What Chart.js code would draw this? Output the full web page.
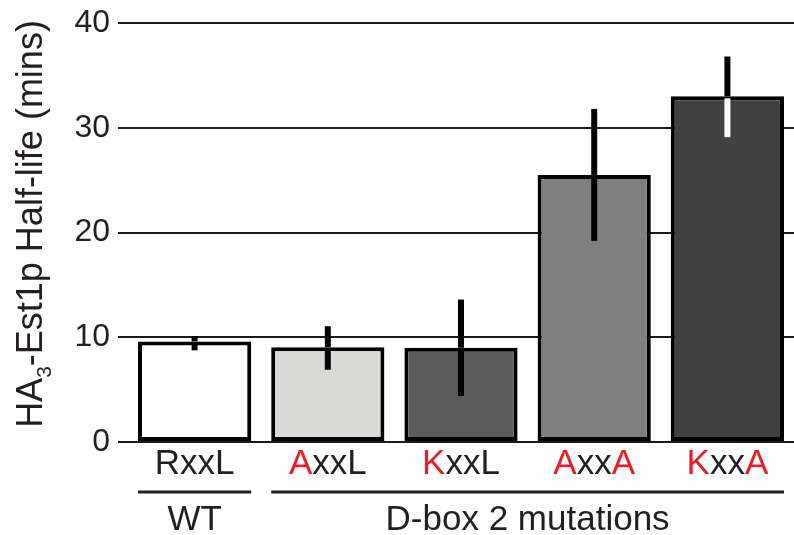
<!DOCTYPE html>
<html>
<head>
<meta charset="utf-8">
<script src="https://cdn.jsdelivr.net/npm/chart.js@4.4.1/dist/chart.umd.min.js"></script>
<style>
  html, body { margin: 0; padding: 0; background: #fff; }
  canvas { display: block; }
</style>
</head>
<body>
<canvas id="chart" width="794" height="535"></canvas>
<script>
// D-box motif variants; letters that differ from the wild-type motif are drawn in red
const wildType = "RxxL"
const categories = ["RxxL", "AxxL", "KxxL", "AxxA", "KxxA"]
const halfLife = [9.6, 9.05, 9.0, 25.5, 33.0]
const errLow = [8.75, 6.9, 4.4, 19.2, 29.1]
const errHigh = [10.1, 11.05, 13.6, 31.8, 36.8]
const yTicks = [0, 10, 20, 30, 40]

// bracket groups under the axis
const groupLabels = ["WT", "D-box 2 mutations"]
const groupFrom = [0, 1]
const groupTo = [0, 4]

const barColors = ["#ffffff", "#d9d9d7", "#5a5a5a", "#7f7f7f", "#414141"]
// colour of the error bar where it runs inside the bar
const errInsideColors = ["#000", "#000", "#000", "#000", "#fff"]

const FONT = "'Liberation Sans', Arial, Helvetica, sans-serif"
const TEXT = "#231f20"
const RED = "#ed1c24"

const errorBars = {
  id: "errorBars",
  afterDatasetsDraw(chart) {
    const ctx = chart.ctx
    const y = chart.scales.y
    const meta = chart.getDatasetMeta(0)
    ctx.save()
    ctx.lineCap = "butt"
    ctx.lineWidth = 6
    meta.data.forEach((bar, i) => {
      const top = y.getPixelForValue(errHigh[i])
      const bot = y.getPixelForValue(errLow[i])
      const val = y.getPixelForValue(halfLife[i])
      // part above the bar
      ctx.strokeStyle = "#000"
      ctx.beginPath()
      ctx.moveTo(bar.x, top)
      ctx.lineTo(bar.x, Math.min(val, bot))
      ctx.stroke()
      // part inside the bar
      if (bot > val) {
        ctx.strokeStyle = errInsideColors[i]
        ctx.beginPath()
        ctx.moveTo(bar.x, val + 2)
        ctx.lineTo(bar.x, bot)
        ctx.stroke()
      }
    })
    ctx.restore()
  }
}

const axisLabels = {
  id: "axisLabels",
  afterDraw(chart) {
    const ctx = chart.ctx
    const meta = chart.getDatasetMeta(0)
    ctx.save()

    // category labels, mutated residues in red
    ctx.font = "35px " + FONT
    ctx.textBaseline = "alphabetic"
    ctx.textAlign = "left"
    meta.data.forEach((bar, i) => {
      const label = categories[i]
      let x = bar.x - ctx.measureText(label).width / 2
      for (let k = 0; k < label.length; k++) {
        const ch = label[k]
        ctx.fillStyle = ch !== wildType[k] ? RED : TEXT
        ctx.fillText(ch, x, 474)
        x += ctx.measureText(ch).width
      }
    })

    // group brackets
    ctx.strokeStyle = "#231f20"
    ctx.lineWidth = 3
    ctx.fillStyle = TEXT
    ctx.textAlign = "center"
    groupLabels.forEach((g, i) => {
      const a = meta.data[groupFrom[i]]
      const b = meta.data[groupTo[i]]
      const x0 = a.x - a.width / 2
      const x1 = b.x + b.width / 2
      ctx.beginPath()
      ctx.moveTo(x0, 492)
      ctx.lineTo(x1, 492)
      ctx.stroke()
      ctx.fillText(g, (x0 + x1) / 2, 530)
    })

    // rotated y title with subscript
    const parts = [
      { t: "HA", size: 36, dy: 0 },
      { t: "3", size: 21, dy: 9 },
      { t: "-Est1p Half-life (mins)", size: 36, dy: 0 }
    ]
    let total = 0
    parts.forEach(p => {
      ctx.font = p.size + "px " + FONT
      p.w = ctx.measureText(p.t).width
      total += p.w
    })
    ctx.translate(42, 224)
    ctx.rotate(-Math.PI / 2)
    ctx.textAlign = "left"
    let x = -total / 2
    parts.forEach(p => {
      ctx.font = p.size + "px " + FONT
      ctx.fillText(p.t, x, p.dy)
      x += p.w
    })
    ctx.restore()
  }
}

new Chart(document.getElementById("chart"), {
  type: "bar",
  data: {
    labels: categories,
    datasets: [{
      data: halfLife,
      backgroundColor: barColors,
      borderColor: "#000",
      borderWidth: 4,
      borderSkipped: false,
      barPercentage: 0.85,
      categoryPercentage: 1
    }]
  },
  options: {
    responsive: false,
    devicePixelRatio: 1,
    animation: false,
    layout: { padding: { left: 0, right: 0, top: 23, bottom: 93 } },
    plugins: { legend: { display: false }, tooltip: { enabled: false } },
    scales: {
      x: { display: false },
      y: {
        min: 0,
        max: 40,
        afterFit(scale) {
          scale.width = 128
          scale.paddingTop = 0
          scale.paddingBottom = 0
        },
        afterBuildTicks(scale) { scale.ticks = yTicks.map(v => ({ value: v })) },
        border: { display: false },
        grid: {
          color: "#1a1a1a",
          lineWidth: 2,
          drawTicks: true,
          tickLength: 10,
          tickColor: "#1a1a1a"
        },
        ticks: {
          padding: 8,
          color: TEXT,
          font: { size: 32, family: FONT }
        }
      }
    }
  },
  plugins: [errorBars, axisLabels]
})
</script>
</body>
</html>
